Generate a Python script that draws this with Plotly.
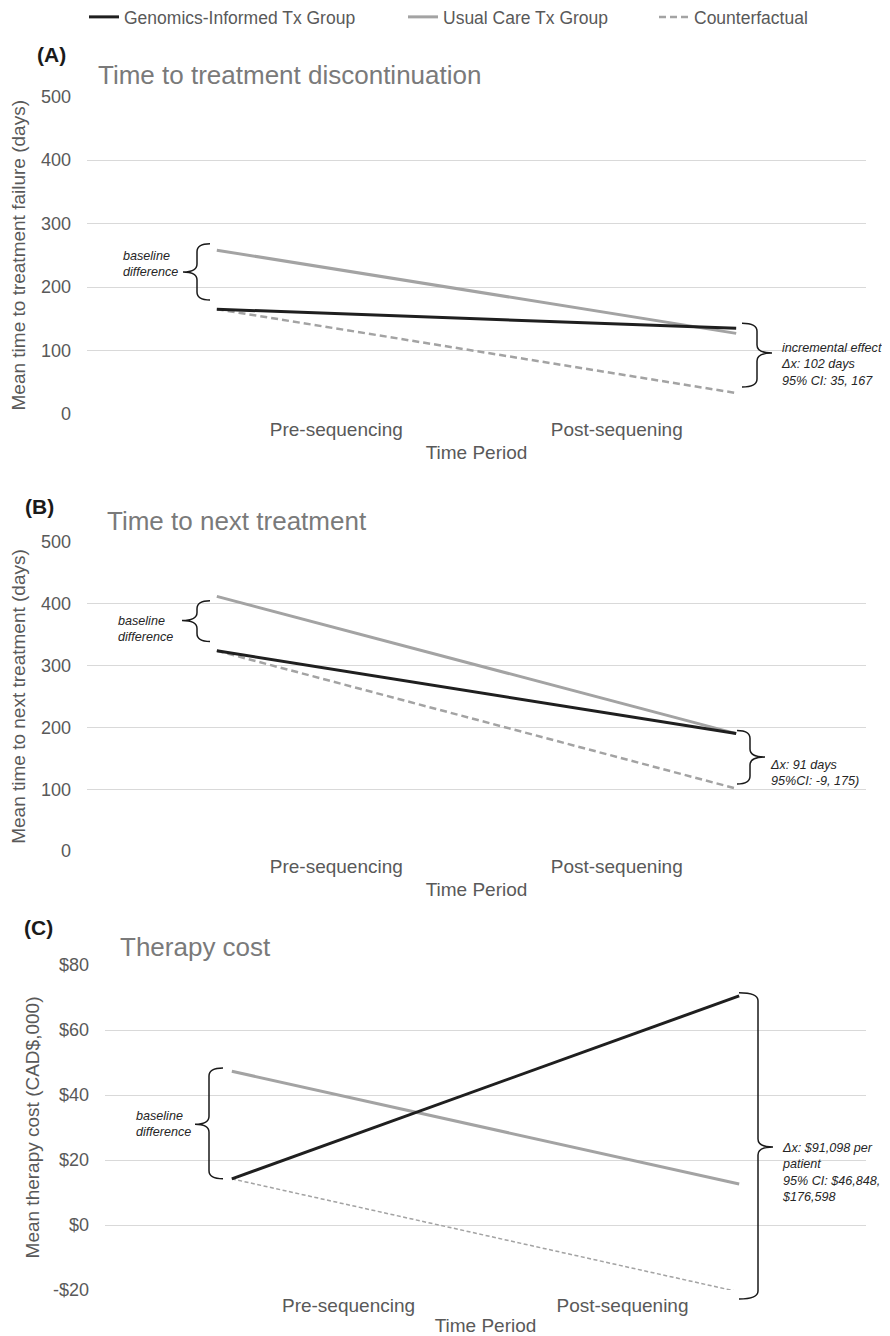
import plotly.graph_objects as go

# ---------------- data ----------------
periods = ["Pre-sequencing", "Post-sequening"]
period_x = [0, 1]                 # position of the two time periods on the lines
period_label_x = [0.23, 0.77]     # where the category labels sit
x_range = [-0.25, 1.25]

ttd_genomics = [165, 135]
ttd_usual = [258, 127]
ttd_counter = [165, 33]

ttnt_genomics = [324, 190]
ttnt_usual = [412, 190]
ttnt_counter = [324, 101]

cost_genomics = [14.2, 70.5]
cost_usual = [47.3, 12.6]
cost_counter = [14.2, -20.6]

days_ticks = [0, 100, 200, 300, 400, 500]
cost_ticks = [-20, 0, 20, 40, 60, 80]
cost_tick_text = ["-$20", "$0", "$20", "$40", "$60", "$80"]

series_names = ["Genomics-Informed Tx Group", "Usual Care Tx Group", "Counterfactual"]

# ---------------- layout helpers (screen pixels) ----------------
OFF = 8                        # page body margin
W, H = 890 - OFF, 1336 - OFF   # figure size

geo = {
    "": dict(top=96.5, bot=414, left=87, right=866, yr=[0, 500]),
    "2": dict(top=542, bot=851, left=87, right=866, yr=[0, 500]),
    "3": dict(top=965, bot=1290, left=105, right=866, yr=[-20, 80]),
}


def px_x(px):
    return (px - OFF) / W


def px_y(py):
    return 1 - (py - OFF) / H


def xd(k, px):
    g = geo[k]
    return x_range[0] + (px - g["left"]) / (g["right"] - g["left"]) * (x_range[1] - x_range[0])


GRID = "#d9d9d9"
TXT = "#595959"
FONT = "Liberation Sans, Arial, sans-serif"

fig = go.Figure()

panels = [
    dict(vals=(ttd_genomics, ttd_usual, ttd_counter), ax="", cf_w=2.5, cf_dash="7px,4px"),
    dict(vals=(ttnt_genomics, ttnt_usual, ttnt_counter), ax="2", cf_w=2.5, cf_dash="7px,4px"),
    dict(vals=(cost_genomics, cost_usual, cost_counter), ax="3", cf_w=1.5, cf_dash="4px,2.5px"),
]

for i, p in enumerate(panels):
    g, u, c = p["vals"]
    xa, ya = "x" + p["ax"], "y" + p["ax"]
    fig.add_trace(go.Scatter(x=period_x, y=u, mode="lines", name=series_names[1],
                             line=dict(color="#a3a3a3", width=3), xaxis=xa, yaxis=ya,
                             legend="legend2", legendgroup="u", showlegend=(i == 0)))
    fig.add_trace(go.Scatter(x=period_x, y=c, mode="lines", name=series_names[2],
                             line=dict(color="#a3a3a3", width=p["cf_w"], dash=p["cf_dash"]),
                             xaxis=xa, yaxis=ya,
                             legend="legend3", legendgroup="c", showlegend=(i == 0)))
    fig.add_trace(go.Scatter(x=period_x, y=g, mode="lines", name=series_names[0],
                             line=dict(color="#1f1f1f", width=3), xaxis=xa, yaxis=ya,
                             legend="legend", legendgroup="g", showlegend=(i == 0)))

titles_y = {
    "": "Mean time to treatment failure (days)",
    "2": "Mean time to next treatment (days)",
    "3": "Mean therapy cost (CAD$,000)",
}
title_standoff = {"": 12, "2": 15, "3": 8}

for k, gg in geo.items():
    xa = dict(domain=[px_x(gg["left"]), px_x(gg["right"])], range=x_range,
              showgrid=False, zeroline=False, automargin=False,
              showline=False, tickmode="array", tickvals=period_label_x, ticktext=periods,
              ticks="", ticklabelstandoff=2, tickfont=dict(size=19, color=TXT, family=FONT),
              title=dict(text="Time Period", font=dict(size=19, color=TXT, family=FONT), standoff=6),
              anchor="y" + k, fixedrange=True)
    ya = dict(domain=[px_y(gg["bot"]), px_y(gg["top"])], range=gg["yr"], showgrid=True,
              gridcolor=GRID, gridwidth=1, zeroline=False, showline=False, ticks="",
              automargin=False, ticklabelstandoff=15,
              tickfont=dict(size=18, color=TXT, family=FONT),
              title=dict(text=titles_y[k], font=dict(size=19, color=TXT, family=FONT),
                         standoff=title_standoff[k]),
              anchor="x" + k, fixedrange=True)
    if k == "3":
        ya.update(tickmode="array", tickvals=cost_ticks, ticktext=cost_tick_text)
    else:
        ya.update(tickmode="array", tickvals=days_ticks)
    fig.layout["xaxis" + k] = xa
    fig.layout["yaxis" + k] = ya


# ---------------- braces ----------------
def brace(k, xpx, ytop, ybot, ytip, hook_px, tip_px, ry_px=8):
    """Curly brace; y in data units of panel k, drawn in the panel's y-domain space."""
    r0, r1 = geo[k]["yr"]
    span_px = geo[k]["bot"] - geo[k]["top"]
    f = lambda v: (v - r0) / (r1 - r0)
    ry = ry_px / span_px
    yt, yb, yc = f(ytop), f(ybot), f(ytip)
    x = xd(k, xpx)
    xh = xd(k, xpx + hook_px)
    xt = xd(k, xpx - (1 if hook_px > 0 else -1) * tip_px)
    path = (f"M {xh},{yt} Q {x},{yt} {x},{yt - ry} L {x},{yc + ry} "
            f"Q {x},{yc} {xt},{yc} Q {x},{yc} {x},{yc - ry} "
            f"L {x},{yb + ry} Q {x},{yb} {xh},{yb}")
    fig.add_shape(type="path", path=path, xref="x" + k, yref=f"y{k} domain",
                  line=dict(color="#1a1a1a", width=1.5))


# panel A
brace("", 197, 268, 179.5, 223.6, 13, 14)
brace("", 757, 143, 42.5, 96, -15, 15)
# panel B
brace("2", 197, 405, 339, 373, 13, 15)
brace("2", 750, 195, 108.5, 152, -13, 15)
# panel C
brace("3", 209, 48.3, 14.2, 31, 14, 14)
brace("3", 758, 71.5, -22.8, 24, -19, 15)

ann_font = dict(size=12.6, color="#262626", family=FONT)


def note(k, xpx, yv, text):
    fig.add_annotation(x=xd(k, xpx - 1), y=yv, xref="x" + k, yref="y" + k, text=text,
                       showarrow=False, xanchor="left", yanchor="middle", align="left",
                       font=ann_font, borderpad=0)


note("", 123, 236, "<i>baseline<br>difference</i>")
note("", 781, 78.7, "<i>incremental effect<br>Δx: 102 days<br>95% CI: 35, 167</i>")
note("2", 118, 360, "<i>baseline<br>difference</i>")
note("2", 770, 125.6, "<i>Δx: 91 days<br>95%CI: -9, 175)</i>")
note("3", 136, 31, "<i>baseline<br>difference</i>")
note("3", 782, 16.2, "<i>Δx: $91,098 per<br>patient<br>95% CI: $46,848,<br>$176,598</i>")

# panel letters & titles
for lab, xpx, ypx in [("(A)", 35, 55), ("(B)", 23, 506), ("(C)", 22, 928)]:
    fig.add_annotation(x=px_x(xpx), y=px_y(ypx), xref="paper", yref="paper", text=f"<b>{lab}</b>",
                       showarrow=False, xanchor="left", yanchor="middle",
                       font=dict(size=21, color="#1a1a1a", family=FONT))
for lab, xpx, ypx in [("Time to treatment discontinuation", 96, 75),
                      ("Time to next treatment", 105, 521),
                      ("Therapy cost", 118, 947)]:
    fig.add_annotation(x=px_x(xpx), y=px_y(ypx), xref="paper", yref="paper", text=lab,
                       showarrow=False, xanchor="left", yanchor="middle",
                       font=dict(size=26, color="#7a7a7a", family=FONT))

leg_common = dict(orientation="h", yanchor="middle", xanchor="left", y=px_y(17),
                  font=dict(size=17.5, color=TXT, family=FONT), bgcolor="rgba(0,0,0,0)")
fig.update_layout(
    width=W, height=H, margin=dict(l=0, r=0, t=0, b=0, autoexpand=False),
    paper_bgcolor="white", plot_bgcolor="white",
    font=dict(family=FONT, color=TXT),
    legend=dict(x=px_x(124 - 40), **leg_common),
    legend2=dict(x=px_x(443 - 40), **leg_common),
    legend3=dict(x=px_x(694 - 40), **leg_common),
    showlegend=True,
)

fig.write_html("out.html")
